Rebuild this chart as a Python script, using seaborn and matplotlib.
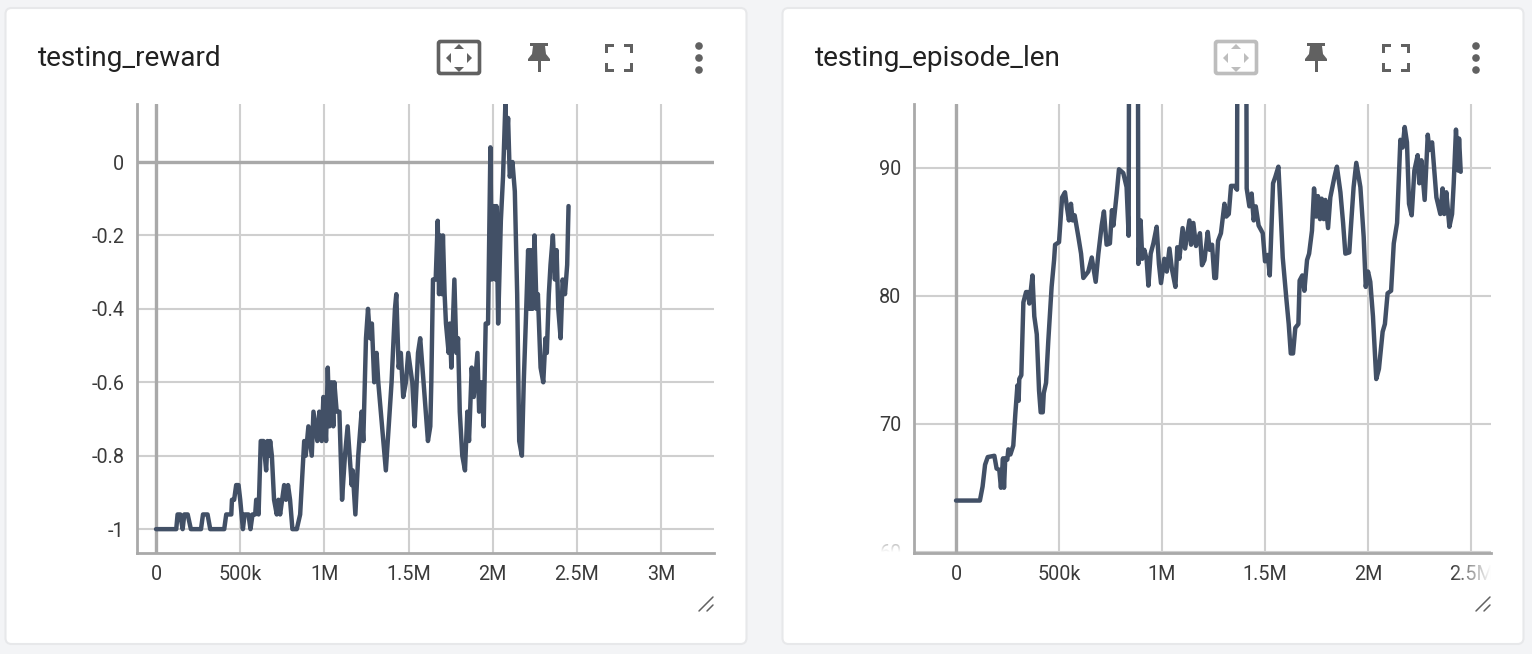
import numpy as np
import pandas as pd
import matplotlib
matplotlib.use("Agg")
import matplotlib.pyplot as plt
import seaborn as sns
from matplotlib.patches import FancyBboxPatch, Polygon, Rectangle, Circle

# --- data (steps in thousands) ---
reward_steps = [0, 120, 128, 144, 158, 168, 188, 207, 267, 279, 306, 322, 405, 417, 447, 451, 464, 476, 490, 500,
                516, 526, 549, 561, 573, 589, 595, 609, 622, 638, 646, 654, 662, 670, 678, 688, 701, 717, 727, 737,
                749, 761, 772, 784, 796, 810, 836, 856, 880, 889, 905, 925, 935, 958, 970, 984, 994, 1010, 1020, 1030,
                1043, 1053, 1059, 1073, 1089, 1105, 1122, 1138, 1162, 1168, 1184, 1201, 1221, 1231, 1247, 1259, 1271, 1282, 1296, 1310,
                1320, 1365, 1399, 1419, 1427, 1441, 1454, 1468, 1484, 1498, 1522, 1536, 1556, 1569, 1589, 1615, 1629, 1635, 1645, 1661,
                1673, 1681, 1688, 1698, 1704, 1714, 1722, 1738, 1744, 1754, 1772, 1784, 1794, 1804, 1819, 1835, 1849, 1859, 1875, 1887,
                1909, 1919, 1933, 1946, 1958, 1972, 1986, 1994, 2006, 2016, 2022, 2032, 2048, 2061, 2075, 2081, 2091, 2101, 2117, 2131,
                2145, 2157, 2173, 2184, 2196, 2210, 2220, 2226, 2236, 2248, 2260, 2268, 2284, 2300, 2313, 2321, 2333, 2343, 2357, 2369,
                2379, 2389, 2403, 2415, 2429, 2442, 2450]
reward_values = [-1, -1, -.96, -.96, -1, -.96, -.96, -1, -1, -.96, -.96, -1, -1, -.96, -.96, -.92, -.92, -.88, -.88, -.92,
                 -1, -.96, -.96, -1, -.96, -.96, -.92, -.96, -.76, -.76, -.8, -.84, -.76, -.8, -.76, -.8, -.92, -.96, -.92, -.96,
                 -.92, -.88, -.92, -.88, -.92, -1, -1, -.96, -.76, -.8, -.72, -.8, -.68, -.76, -.68, -.76, -.64, -.76, -.56, -.72,
                 -.6, -.72, -.6, -.68, -.68, -.92, -.8, -.72, -.88, -.84, -.96, -.8, -.68, -.76, -.48, -.4, -.48, -.44, -.6, -.52,
                 -.6, -.84, -.6, -.4, -.36, -.56, -.52, -.64, -.6, -.52, -.6, -.72, -.52, -.48, -.6, -.76, -.72, -.6, -.32, -.32,
                 -.16, -.36, -.2, -.36, -.2, -.36, -.44, -.52, -.44, -.56, -.32, -.52, -.48, -.68, -.8, -.84, -.68, -.76, -.56, -.64,
                 -.52, -.68, -.6, -.72, -.44, -.44, .04, -.32, -.12, -.32, -.12, -.44, -.16, -.04, .16, .04, .12, -.04, 0, -.08,
                 -.36, -.76, -.8, -.6, -.44, -.24, -.4, -.24, -.4, -.2, -.4, -.36, -.56, -.6, -.48, -.52, -.36, -.28, -.2, -.32,
                 -.24, -.4, -.48, -.32, -.36, -.28, -.12]

episode_steps = [0, 116, 129, 141, 154, 186, 197, 210, 218, 228, 233, 239, 249, 254, 264, 278, 288, 298, 304, 307,
                 317, 327, 340, 349, 356, 371, 380, 392, 403, 411, 421, 426, 437, 448, 464, 476, 481, 500, 515, 529,
                 537, 548, 558, 566, 576, 594, 607, 618, 642, 659, 678, 691, 707, 718, 731, 747, 757, 764, 780, 791,
                 812, 828, 838, 840, 883, 885, 896, 904, 914, 925, 934, 945, 958, 974, 985, 995, 1011, 1023, 1036, 1048,
                 1065, 1074, 1084, 1100, 1112, 1133, 1141, 1152, 1165, 1184, 1194, 1206, 1222, 1231, 1243, 1254, 1262, 1272, 1286, 1303,
                 1312, 1324, 1335, 1351, 1364, 1366, 1409, 1411, 1424, 1435, 1445, 1455, 1469, 1489, 1500, 1513, 1523, 1539, 1550, 1565,
                 1574, 1586, 1604, 1615, 1625, 1636, 1647, 1662, 1668, 1681, 1691, 1704, 1714, 1728, 1738, 1748, 1757, 1767, 1775, 1785,
                 1793, 1806, 1817, 1837, 1849, 1866, 1879, 1890, 1909, 1917, 1930, 1943, 1963, 1979, 1989, 2000, 2011, 2024, 2040, 2053,
                 2071, 2082, 2095, 2112, 2125, 2141, 2157, 2168, 2178, 2189, 2199, 2212, 2225, 2241, 2249, 2259, 2275, 2290, 2298, 2311,
                 2332, 2351, 2362, 2370, 2380, 2395, 2408, 2416, 2427, 2437, 2442, 2450]
episode_values = [64, 64, 65.1, 66.8, 67.4, 67.5, 66.5, 66.4, 65, 67.3, 65, 67.3, 67.2, 68, 67.6, 68.3, 70.8, 73, 71.8, 73.5,
                  73.8, 79.5, 80.3, 80.3, 79.4, 81.6, 78.4, 77, 72.6, 70.9, 70.9, 72.4, 73.2, 76.5, 80.7, 82.8, 84, 84.2, 87.7, 88.1,
                  87.1, 85.9, 87.2, 85.9, 86.3, 84.6, 83.3, 81.4, 81.9, 83, 81.1, 83.3, 85.5, 86.6, 84, 84.1, 86.7, 85.5, 88, 89.9,
                  89.6, 88.5, 84.7, 100, 100, 82.5, 85.9, 82.9, 83.6, 82.9, 80.8, 83.3, 84.1, 85.4, 82.5, 81, 82.9, 81.9, 83.7, 82.1,
                  80.7, 83.8, 82.9, 85.3, 83.7, 85.9, 84, 85.7, 83.9, 84.9, 82.4, 82.8, 85, 83.6, 84, 81.4, 81.4, 84.3, 84.9, 87.2,
                  86.2, 86.4, 88.6, 88.6, 88.3, 100, 100, 88.4, 87, 88, 85.9, 87, 85.5, 84.9, 82.7, 83.2, 81.6, 88.8, 89.3, 90.1,
                  87.2, 83, 79.7, 77.8, 75.5, 75.5, 77.5, 77.8, 81.2, 81.6, 80.4, 82.8, 83.3, 85.1, 88.4, 86.2, 87.8, 86, 87.6, 86,
                  87.5, 85.3, 87.7, 89.3, 90.1, 88.1, 85.7, 83.3, 83.4, 85.4, 88.5, 90.4, 88.5, 84.6, 80.7, 81.9, 81.1, 78.4, 73.5, 74.3,
                  77.2, 77.8, 80.2, 80.4, 84.1, 85.7, 92.2, 91.6, 93.2, 92, 87.2, 86.3, 89.8, 91, 88.8, 90.6, 87.5, 92.6, 91.4, 92,
                  87.7, 86.4, 88.4, 86.4, 88.1, 85.4, 86.4, 88.8, 93, 89.8, 92.3, 89.7]

x_ticks = [0, 500, 1000, 1500, 2000, 2500, 3000]
x_tick_labels = ["0", "500k", "1M", "1.5M", "2M", "2.5M", "3M"]
reward_ticks = [-1, -0.8, -0.6, -0.4, -0.2, 0]
reward_tick_labels = ["-1", "-0.8", "-0.6", "-0.4", "-0.2", "0"]
episode_ticks = [60, 70, 80, 90]
episode_tick_labels = ["60", "70", "80", "90"]

W, H = 1532, 654
LINE_COLOR = "#425066"
GRID_COLOR = "#cfcfcf"
AXIS_COLOR = "#a9a9a9"
ICON_COLOR = "#616161"

sns.set_theme(style="white")
plt.rcParams["font.family"] = ["Roboto", "DejaVu Sans"]

fig = plt.figure(figsize=(W / 100, H / 100), dpi=100, facecolor="#f3f4f6")


def px_axes(left, top, right, bottom, zorder=1):
    ax = fig.add_axes([left / W, 1 - bottom / H, (right - left) / W, (bottom - top) / H], zorder=zorder)
    return ax


# background layer with the two cards
bg = px_axes(0, 0, W, H, zorder=0)
bg.set_xlim(0, W)
bg.set_ylim(H, 0)
bg.axis("off")
for card_x in [5.5, 782.5]:
    bg.add_patch(FancyBboxPatch((card_x + 6, 8 + 6), 741 - 12, 636 - 12, boxstyle="round,pad=6",
                                facecolor="white", edgecolor="#e7e8ea", linewidth=1.5))


def draw_chart(ax, steps, values, xlim, ylim, yticks, ylabels, zero_h):
    df = pd.DataFrame({"step": steps, "value": values})
    sns.lineplot(data=df, x="step", y="value", ax=ax, estimator=None, sort=False,
                 color=LINE_COLOR, linewidth=3.2, zorder=5)
    # ticks first, they would widen the view otherwise
    ax.set_xticks(x_ticks, x_tick_labels)
    ax.set_yticks(yticks, ylabels)
    ax.set_xlim(*xlim)
    ax.set_ylim(*ylim)
    ax.set_xlabel("")
    ax.set_ylabel("")
    ax.grid(True, color=GRID_COLOR, linewidth=1.5)
    ax.set_axisbelow(True)
    ax.axvline(0, color=AXIS_COLOR, linewidth=2.4, zorder=2)
    if zero_h:
        ax.axhline(0, color=AXIS_COLOR, linewidth=2.4, zorder=2)
    ax.tick_params(axis="both", length=0, labelsize=14.2, labelcolor="#3a3a3a")
    ax.tick_params(axis="x", pad=9)
    ax.tick_params(axis="y", pad=9)
    sns.despine(ax=ax)
    for side in ["left", "bottom"]:
        ax.spines[side].set_color(AXIS_COLOR)
        ax.spines[side].set_linewidth(2)
    ax.patch.set_alpha(0)


ax_reward = px_axes(137, 104, 714, 553)
draw_chart(ax_reward, reward_steps, reward_values, (-113, 3314), (-1.065, 0.158),
           reward_ticks, reward_tick_labels, True)

ax_episode = px_axes(914, 104, 1491, 553)
draw_chart(ax_episode, episode_steps, episode_values, (-204, 2597), (59.9, 95),
           episode_ticks, episode_tick_labels, False)

# top layer: titles, toolbar icons, label fades
fg = px_axes(0, 0, W, H, zorder=5)
fg.set_xlim(0, W)
fg.set_ylim(H, 0)
fg.axis("off")

fg.text(38, 59, "testing_reward", fontsize=20.2, color="#212121", va="center", ha="left")
fg.text(815, 59, "testing_episode_len", fontsize=20.2, color="#212121", va="center", ha="left")


def draw_icons(dx, fit_color):
    # fit-to-domain box
    fg.add_patch(FancyBboxPatch((438.5 + dx + 2, 41.5 + 2), 41 - 4, 32 - 4, boxstyle="round,pad=2",
                                facecolor="none", edgecolor=fit_color, linewidth=2.6))
    cx, cy = 459 + dx, 58
    for tri in ([(cx - 5, cy - 9), (cx + 5, cy - 9), (cx, cy - 14)],
                [(cx - 5, cy + 9), (cx + 5, cy + 9), (cx, cy + 14)],
                [(cx - 13, cy), (cx - 8, cy - 5), (cx - 8, cy + 5)],
                [(cx + 13, cy), (cx + 8, cy - 5), (cx + 8, cy + 5)]):
        fg.add_patch(Polygon(tri, closed=True, facecolor=fit_color, edgecolor="none"))
    # pin
    px = 539 + dx
    fg.add_patch(Polygon([(px - 9, 43), (px + 9, 43), (px + 9, 46), (px + 6, 46), (px + 7, 54), (px + 11, 59),
                          (px + 11, 61), (px - 11, 61), (px - 11, 59), (px - 7, 54), (px - 6, 46), (px - 9, 46)],
                         closed=True, facecolor=ICON_COLOR, edgecolor="none"))
    fg.add_patch(Rectangle((px - 1.5, 61), 3, 11, facecolor=ICON_COLOR, edgecolor="none"))
    # fullscreen brackets
    x0, x1, y0, y1 = 605 + dx, 633 + dx, 44, 72
    t, arm = 3.2, 9
    for (bx, by, sx, sy) in [(x0, y0, 1, 1), (x1, y0, -1, 1), (x0, y1, 1, -1), (x1, y1, -1, -1)]:
        fg.add_patch(Rectangle((bx, by), sx * arm, sy * t, facecolor=ICON_COLOR, edgecolor="none"))
        fg.add_patch(Rectangle((bx, by), sx * t, sy * arm, facecolor=ICON_COLOR, edgecolor="none"))
    # more menu
    for dot_y in [46, 58, 70]:
        fg.add_patch(Circle((699 + dx, dot_y), 3.8, facecolor=ICON_COLOR, edgecolor="none"))
    # resize handle
    fg.plot([699 + dx, 713 + dx], [611, 597], color=ICON_COLOR, linewidth=1.1)
    fg.plot([707 + dx, 713 + dx], [611, 605], color=ICON_COLOR, linewidth=1.1)


draw_icons(0, ICON_COLOR)
draw_icons(777, "#bdbdbd")

# the clipped, fading tick labels of the right chart
fade_x = np.ones((1, 64, 4))
fade_x[0, :, 3] = np.linspace(0, 1, 64)
fg.imshow(fade_x, extent=(1452, 1491, 590, 555), aspect="auto", zorder=8)
fg.add_patch(Rectangle((1491, 555), 20, 35, facecolor="white", edgecolor="none", zorder=8))
fade_y = np.ones((64, 1, 4))
fade_y[:, 0, 3] = np.linspace(0.55, 1, 64)
fg.imshow(fade_y, extent=(872, 911, 552, 540), aspect="auto", zorder=8)
fg.add_patch(Rectangle((872, 552), 39, 16, facecolor="white", edgecolor="none", zorder=8))
fg.set_xlim(0, W)
fg.set_ylim(H, 0)

fig.savefig("out.png", dpi=100, facecolor=fig.get_facecolor())
plt.close(fig)
